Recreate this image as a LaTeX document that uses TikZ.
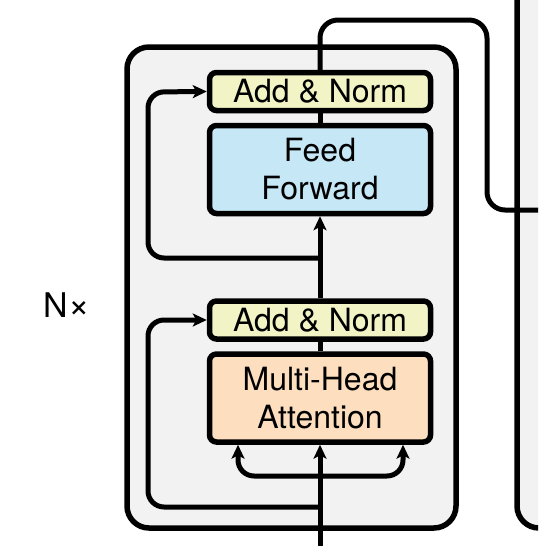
\documentclass[tikz,border=0pt]{standalone}
\usepackage{fontspec}
\setmainfont{TeX Gyre Heros}
\usetikzlibrary{arrows.meta}
\definecolor{encfill}{HTML}{F2F2F2}
\definecolor{normfill}{HTML}{F2F4C6}
\definecolor{fffill}{HTML}{C6E7F5}
\definecolor{mhafill}{HTML}{FDDFBF}
\tikzset{
  blk/.style={draw=black, line width=5.5pt, rounded corners=7pt, minimum width=221pt, inner sep=0pt, align=center, font=\fontsize{32}{38}\selectfont},
  normbox/.style={blk, fill=normfill, minimum height=38pt},
  bigbox/.style={blk, minimum height=88pt},
  conn/.style={line width=5pt, rounded corners=16pt},
  arr/.style={conn, -{Stealth[length=14pt, width=13pt, inset=3.5pt]}}
}
\begin{document}
\begin{tikzpicture}[x=1pt, y=-1pt]
\useasboundingbox (0,0) rectangle (538,546);
\clip (0,0) rectangle (538,546);
% decoder box fragment
\fill[encfill, rounded corners=22pt] (517,-20) -- (517,528) -- (560,528) -- (560,-20) -- cycle;
\draw[line width=5.5pt, rounded corners=22pt] (517,-20) -- (517,528) -- (560,528);
% encoder box
\node[draw=black, fill=encfill, line width=5.5pt, rounded corners=22pt, minimum width=329pt, minimum height=481pt, inner sep=0pt] (enc) at (291.5,287.5) {};
\node[font=\fontsize{34}{38}\selectfont, inner sep=0pt] (nx) at (67,305) {N\kern1pt{\fontsize{37}{37}\selectfont ×}};
% blocks
\node[normbox] (an2) at (320,91.5) {Add \& Norm};
\node[bigbox, fill=fffill] (ff) at (320,169.5) {Feed\\Forward};
\node[normbox] (an1) at (320,320) {Add \& Norm};
\node[bigbox, fill=mhafill] (mha) at (320,398) {Multi-Head\\Attention};
% coordinates
\coordinate (in) at (320,560);
\coordinate (split) at (320,476);
\coordinate (res1) at (320,507);
\coordinate (res2) at (320,258);
\coordinate (out) at (560,210);
% connectors
\draw[arr] (in) -- (mha.south);
\draw[arr] (split) -| ([xshift=-82pt]mha.south);
\draw[arr] (split) -| ([xshift=83pt]mha.south);
\draw[arr] (res1) -| (148,320) -- (an1.west);
\draw[conn] (mha.north) -- (an1.south);
\draw[arr] (an1.north) -- (ff.south);
\draw[arr] (res2) -| (148,92) -- (an2.west);
\draw[conn] (ff.north) -- (an2.south);
\draw[conn, rounded corners=18pt] (an2.north) |- (487,20) |- (out);
\end{tikzpicture}
\end{document}
